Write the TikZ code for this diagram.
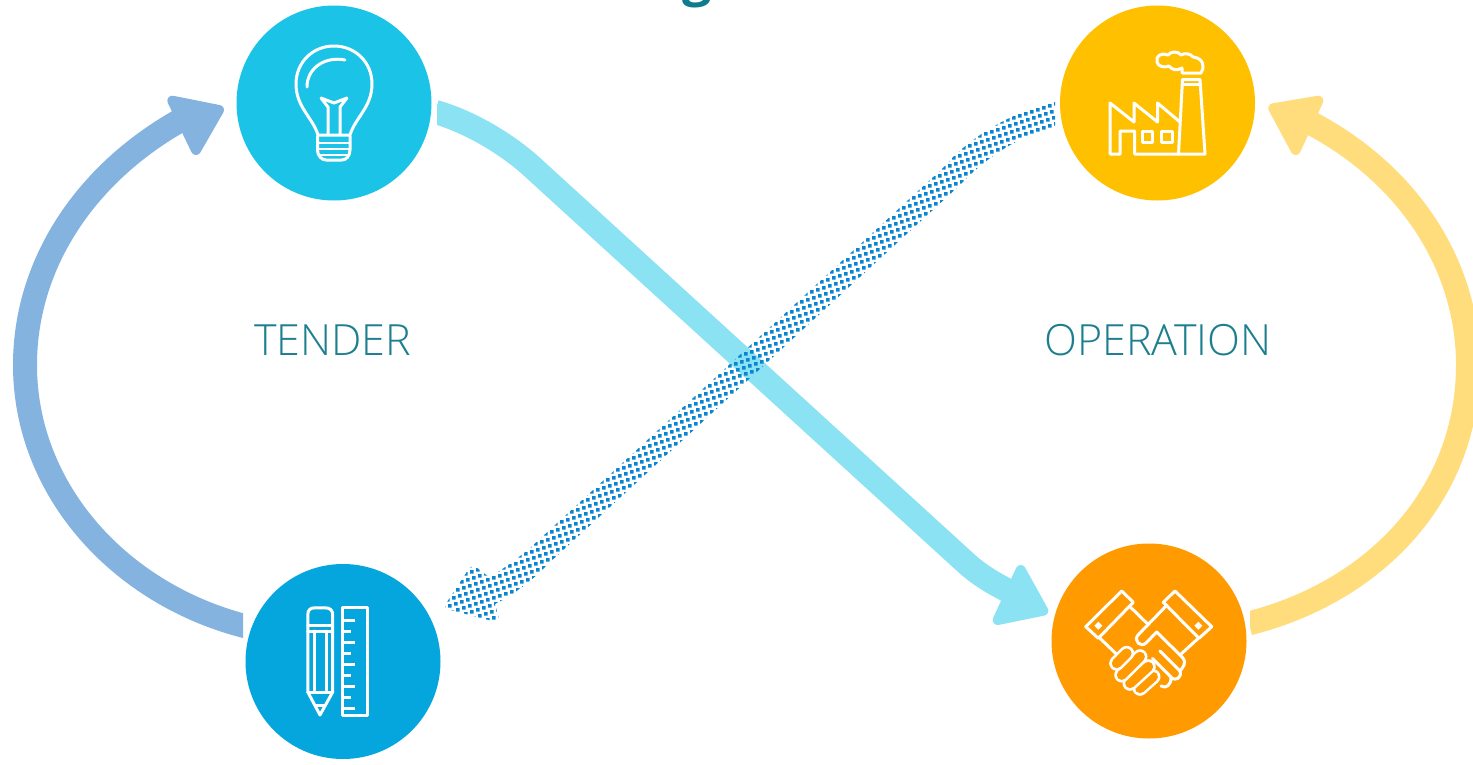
\documentclass[tikz,border=0pt]{standalone}
\usepackage{fontspec}
\usetikzlibrary{calc}
\setmainfont{Open Sans}
\newfontfamily\lightfont{Open Sans Light}
\definecolor{bulbc}{HTML}{1BC3E6}
\definecolor{factc}{HTML}{FFC000}
\definecolor{penc}{HTML}{05A6DD}
\definecolor{handc}{HTML}{FF9A00}
\definecolor{leftc}{HTML}{84B3E0}
\definecolor{rightc}{HTML}{FFDD7C}
\definecolor{crossc}{HTML}{8BE2F2}
\definecolor{dotc}{HTML}{0A85D2}
\definecolor{textc}{HTML}{1D7F8E}
\definecolor{titlec}{HTML}{0E7C8C}
\tikzset{
  disc/.style={circle,minimum size=195pt,inner sep=0pt,outer sep=4pt},
  shaft/.style={line width=24pt},
  headtip/.style={line width=10pt,line join=round},
  icon/.style={draw=white,line width=3pt,line join=round,line cap=round},
  thin icon/.style={icon,line width=3pt},
  label text/.style={text=textc,font=\lightfont\fontsize{43}{50}\selectfont,inner sep=0pt},
}
\begin{document}
\begin{tikzpicture}[x=1pt,y=-1pt]
\path[use as bounding box,fill=white] (0,0) rectangle (1473,764);

\node[font=\fontsize{52}{60}\selectfont\bfseries,text=titlec,inner sep=0pt,anchor=base] (title) at (697,-5) {g};

\node[disc,fill=bulbc] (bulb) at (334,103) {};
\node[disc,fill=factc] (fact) at (1157.5,103) {};
\node[disc,fill=penc] (pen) at (343,661.5) {};
\node[disc,fill=handc] (hand) at (1149,641) {};

\node[label text] (tender) at (332.5,340) {TENDER};
\node[label text] (oper) at (1158,340) {OPERATION};

% left arc
\coordinate (la) at (25,365);
\coordinate (lb) at (192,114);
\begin{scope}
\clip (0,0) rectangle (243,764);
\draw[leftc,shaft] (pen.160) .. controls (120,595) and (25,490) .. (la) .. controls (25,262) and (88,168) .. (lb);
\end{scope}
\filldraw[leftc,headtip] (172.3,100.7) -- (219,110) -- (196,150) -- cycle;

% right arc
\coordinate (ra) at (1468,365);
\coordinate (rb) at (1305,120);
\begin{scope}
\clip (1250,0) rectangle (1473,764);
\draw[rightc,shaft] (hand.10) .. controls (1380,590) and (1468,490) .. (ra) .. controls (1468,265) and (1408,172) .. (rb);
\end{scope}
\filldraw[rightc,headtip] (1273.3,108.3) -- (1318.3,100.7) -- (1295.7,150) -- cycle;

% light cross arrow
\coordinate (ca) at (530,165);
\coordinate (cb) at (965,562);
\coordinate (cc) at (1015,594);
\begin{scope}
\clip (437,0) rectangle (1473,764);
\draw[crossc,shaft] (bulb.-5) .. controls (470,122) and (505,143) .. (ca) -- (cb) .. controls (980,576) and (998,586) .. (cc);
\end{scope}
\filldraw[crossc,headtip] (1020.7,570) -- (1043.3,610.7) -- (997.7,620) -- cycle;

% dotted cross arrow
\coordinate (d1) at (1055,102);
\coordinate (d2) at (1055,127);
\begin{scope}
\clip
  (d1) .. controls (1025,108) and (975,130) .. (943,168)
  -- (530,548) .. controls (518,558) and (504,569) .. (489,577)
  [rounded corners=5pt] -- (472,564) -- (443,608) -- (500,623) [sharp corners] -- (495,604)
  .. controls (515,594) and (535,578) .. (548,564)
  -- (960,185) .. controls (985,158) and (1020,135) .. (d2) -- cycle;
\fill[dotc]
  \foreach \i in {0,...,125}{
    \pgfextra{\pgfmathtruncatemacro\jj{-0.45*\i}}
    \foreach \k in {-10,...,12}{
      \pgfextra{\pgfmathsetmacro\px{440+6*\i+2*(\jj+\k)}\pgfmathsetmacro\py{620-2*\i+6*(\jj+\k)}}
      (\px,\py) rectangle ++(3.7,3.7)
    }
  };
\end{scope}

% bulb icon
\draw[icon] (318,135) .. controls (313,118) and (296,107) .. (296,84) .. controls (296,62) and (313,46) .. (334,46) .. controls (355,46) and (372,62) .. (372,84) .. controls (372,107) and (355,118) .. (350,135) -- cycle;
\draw[icon] (345,60) .. controls (325,56) and (307,68) .. (307,87);
\draw[icon] (328,134) -- (328,107) -- (321,98) -- (334,103) -- (347,98) -- (340,107) -- (340,134);
\draw[icon] (317.5,136) -- (317.5,150) .. controls (317.5,156) and (322,160) .. (326,160) -- (342,160) .. controls (346,160) and (350,156) .. (350,150) -- (350,136);
\draw[icon,line width=2.4pt] (318,143) -- (350,143) (318,149) -- (350,149) (320,155) -- (348,155);

% factory icon
\draw[thin icon] (1120,154) -- (1110,154) -- (1110,103) -- (1134,122) -- (1134,103) -- (1157.5,122) -- (1157.5,103) -- (1180,122);
\draw[thin icon] (1120,154) -- (1120,131) -- (1134.5,131) -- (1134.5,154) -- (1205,154) -- (1200,79.5) -- (1182.5,79.5) -- (1178.5,154);
\draw[thin icon] (1182,84) -- (1200.5,84);
\draw[thin icon] (1142,131) rectangle (1152,142);
\draw[thin icon] (1161.5,131) rectangle (1172,142);
\draw[thin icon] (1182,73) -- (1201,73) .. controls (1205,68) and (1204,58) .. (1193,57) .. controls (1190,53) and (1184,53) .. (1181,55) .. controls (1178,51) and (1171,51) .. (1168,55) .. controls (1162,52) and (1155,56) .. (1157,62) .. controls (1158,67) and (1165,68) .. (1169,66) .. controls (1172,70) and (1177,71) .. (1182,68) -- cycle;

% pencil and ruler icon
\draw[thin icon] (307.8,692) -- (307.8,615) .. controls (307.8,610) and (310,607.8) .. (315,607.8) -- (325,607.8) .. controls (330,607.8) and (332.7,610) .. (332.7,615) -- (332.7,692) -- (320,715) -- cycle;
\draw[thin icon] (307.8,625) -- (332.7,625) (307.8,631) -- (332.7,631) (307.8,692) -- (332.7,692);
\draw[thin icon] (314,631) -- (314,690) (326,631) -- (326,690) (316,705) -- (323.5,705);
\draw[thin icon] (342.5,607.8) rectangle (367.5,715);
\draw[thin icon,line cap=butt] (342.5,620) -- (355,620) (342.5,631.5) -- (351,631.5) (342.5,642.5) -- (355,642.5) (342.5,653.5) -- (351,653.5) (342.5,664.5) -- (355,664.5) (342.5,675.5) -- (351,675.5) (342.5,686.5) -- (355,686.5) (342.5,697.5) -- (351,697.5) (342.5,708.5) -- (355,708.5);

% handshake icon
\draw[thin icon] (1121.7,591) -- (1133.3,602.3) -- (1098.3,638.3) -- (1085.7,626.7) -- cycle;
\draw[thin icon] (1175,591) -- (1163.3,602.3) -- (1199,638.3) -- (1211.7,626.7) -- cycle;
\fill[white] (1098.3,621.7) -- (1102.3,625.7) -- (1098.3,629.7) -- (1094.3,625.7) -- cycle;
\fill[white] (1198.3,621.7) -- (1202.3,625.7) -- (1198.3,629.7) -- (1194.3,625.7) -- cycle;
\draw[thin icon] (1130,606.7) -- (1147.7,624);
\draw[thin icon] (1100,638.3) -- (1116.7,654.3);
\draw[thin icon] (1198.3,638.3) -- (1180,655);
\draw[thin icon] (1167,605) -- (1138,635) .. controls (1133,641) and (1141,648) .. (1146,643) -- (1156.7,632) -- (1182,657) .. controls (1188,663) and (1182,668) .. (1180,671) .. controls (1182,678) and (1176,681) .. (1171,678) .. controls (1171,685) and (1166,689) .. (1161,686);
\draw[thin icon] (1152.3,658.3) -- (1171.5,677.5) (1160,651) -- (1180,671);
\foreach \xa/\ya/\xb/\yb in {1153/676.7/1140/688.3, 1148.3/666.7/1130/683.3, 1140/656.7/1121.7/675, 1126.7/653.3/1116.7/663.3}{
  \draw[white,line width=15pt,line cap=round] (\xa,\ya) -- (\xb,\yb);
  \draw[handc,line width=9.8pt,line cap=round] (\xa,\ya) -- (\xb,\yb);
}
\end{tikzpicture}
\end{document}
